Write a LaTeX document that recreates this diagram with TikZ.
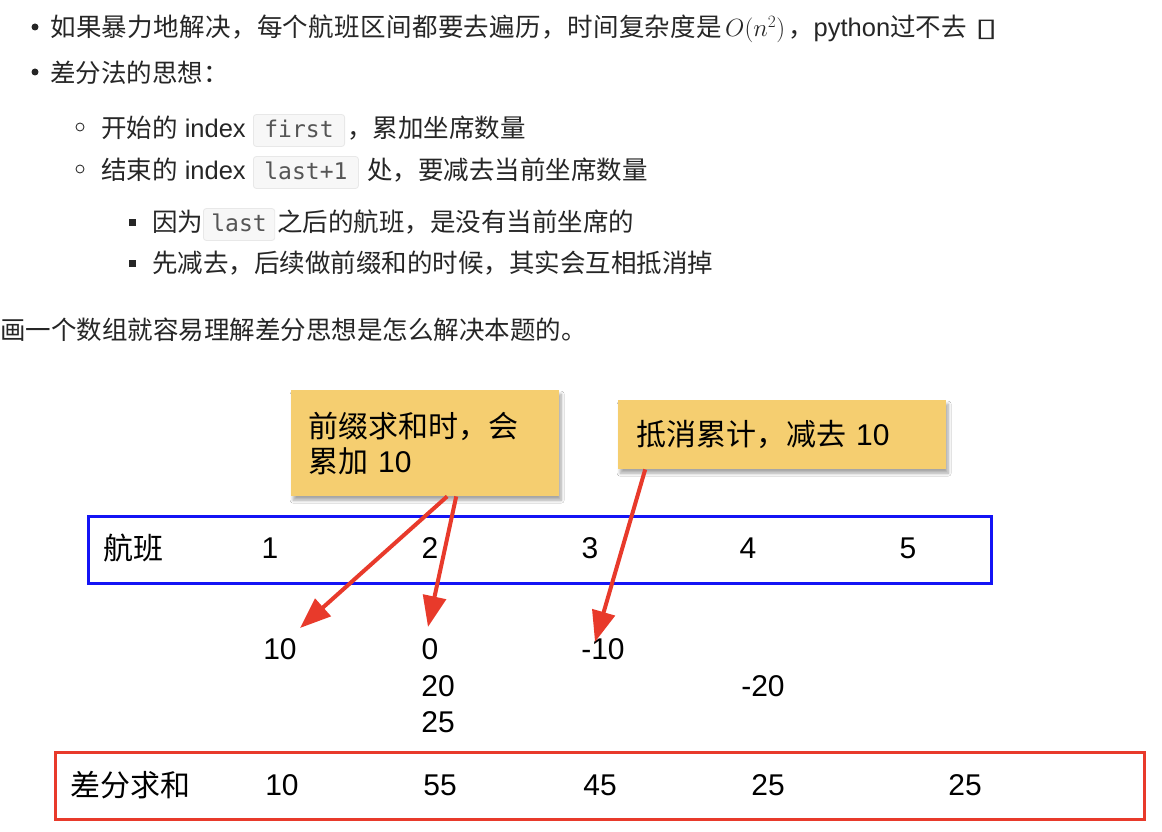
\documentclass[tikz,border=0pt]{standalone}
\usepackage{fontspec}
\setmainfont{Liberation Sans}
\newfontfamily\cjk{Noto Sans CJK SC}
\newfontfamily\codefont{DejaVu Sans Mono}
\newfontfamily\symfont{DejaVu Sans}
\usetikzlibrary{shadows.blur,arrows.meta}
\newcommand\zhs[1]{{\cjk #1}}
\definecolor{notey}{RGB}{245,206,112}
\definecolor{arrred}{RGB}{232,58,43}
\definecolor{boxblue}{RGB}{20,20,245}
\definecolor{codebg}{RGB}{247,247,247}
\definecolor{codebd}{RGB}{232,232,232}
\definecolor{codetx}{RGB}{85,85,85}
\begin{document}
\begin{tikzpicture}[x=1pt,y=-1pt,
  body/.style={anchor=base west, inner sep=0pt, text=black!85, font=\fontsize{25.5}{30}\selectfont},
  dot/.style={circle, fill=black!85, inner sep=0pt, minimum size=7pt},
  odot/.style={circle, draw=black!80, line width=0.9pt, inner sep=0pt, minimum size=8pt},
  sqdot/.style={rectangle, fill=black!85, inner sep=0pt, minimum size=7pt},
  code/.style={anchor=base west, rectangle, rounded corners=3pt, fill=codebg, draw=codebd, line width=0.8pt,
     text=codetx, font=\codefont\fontsize{23}{27}\selectfont, text height=20pt, text depth=6pt, inner ysep=3pt, inner xsep=11pt},
  note/.style={rectangle, fill=notey, anchor=north west, align=left, inner ysep=0pt,
     font=\fontsize{30}{35}\selectfont,
     blur shadow={shadow xshift=2pt, shadow yshift=-4pt, shadow blur radius=3pt, shadow opacity=35, shadow blur steps=8}},
  row/.style={rectangle, draw, line width=3pt, anchor=north west, inner sep=0pt},
  dg/.style={inner sep=0pt, font=\fontsize{30}{35}\selectfont, text=black},
  dl/.style={dg, anchor=west},
  arr/.style={draw=arrred, line width=4pt, -{Triangle[length=31pt,width=23pt]}, arrred}
]
\useasboundingbox[fill=white] (0,0) rectangle (1162,832);

% ---------- bullet list ----------
\node[dot] (b1) at (35,27) {};
\node[body] (l1a) at (50,36.5) {\zhs{\addfontfeature{LetterSpace=1.4}如果暴力地解决，每个航班区间都要去遍历，时间复杂度是}};
\node[body] (l1m) at (725,36.5) {$O(n^2)$};
\node[body] (l1d) at (788,36.5) {\zhs{，}python\zhs{过不去}};
\node[body] (l1e) at (975,36.5) {\symfont\scalebox{1.6}[1]{▯}};

\node[dot] (b2) at (35,72) {};
\node[body] (l2) at (50,82.5) {\zhs{差分法的思想：}};

\node[odot] (b3) at (80,127) {};
\node[body] (l3a) at (101,137.5) {\zhs{开始的} index};
\node[code] (c1) at (253,137.5) {first};
\node[body] (l3b) at (347,137.5) {\zhs{，累加坐席数量}};

\node[odot] (b4) at (80,169) {};
\node[body] (l4a) at (101,179.5) {\zhs{结束的} index};
\node[code] (c2) at (253,179.5) {last+1};
\node[body] (l4b) at (367,179.5) {\zhs{处，要减去当前坐席数量}};

\node[sqdot] (b5) at (132,222) {};
\node[body] (l5a) at (152,231.5) {\zhs{因为}};
\node[code, inner xsep=8pt] (c3) at (203,231.5) {last};
\node[body] (l5b) at (277,231.5) {\zhs{之后的航班，是没有当前坐席的}};

\node[sqdot] (b6) at (132,263) {};
\node[body] (l6) at (152,272.5) {\zhs{先减去，后续做前缀和的时候，其实会互相抵消掉}};

\node[body] (l7) at (0,339.5) {\zhs{画一个数组就容易理解差分思想是怎么解决本题的。}};

% ---------- diagram ----------
\node[row, draw=boxblue, minimum width=903pt, minimum height=67pt] (flights) at (87,515) {};
\node[dl] (fl) at (103,548) {\zhs{航班}};
\node[dg] (f1) at (270,548) {1};
\node[dg] (f2) at (430,548) {2};
\node[dg] (f3) at (590,548) {3};
\node[dg] (f4) at (748,548) {4};
\node[dg] (f5) at (908,548) {5};

\node[dg] (d10) at (280,649) {10};
\node[dg] (d0) at (430,649) {0};
\node[dg] (dm10) at (603,649) {-10};
\node[dg] (d20) at (438,686) {20};
\node[dg] (dm20) at (763,686) {-20};
\node[dg] (d25) at (438,722) {25};

\node[row, draw=arrred, minimum width=1089pt, minimum height=67pt] (sums) at (54,751) {};
\node[dl] (sl) at (70,785) {\zhs{差分求和}};
\node[dg] (s1) at (282,785) {10};
\node[dg] (s2) at (440,785) {55};
\node[dg] (s3) at (600,785) {45};
\node[dg] (s4) at (768,785) {25};
\node[dg] (s5) at (965,785) {25};

\node[note, text width=234pt, inner xsep=17pt, minimum height=106pt] (box1) at (291,390)
  {\zhs{前缀求和时，会}\\\zhs{累加} 10};
\node[note, text width=292pt, inner xsep=18pt, minimum height=69pt] (box2) at (618,400)
  {\zhs{抵消累计，减去} 10};

\coordinate (t1) at (300,628);
\coordinate (t2) at (428,627);
\coordinate (t3) at (595,642);
\draw[arr] ([xshift=22pt]box1.south) -- (t1);
\draw[arr] ([xshift=31pt]box1.south) -- (t2);
\draw[arr] ([xshift=-137pt]box2.south) -- (t3);
\end{tikzpicture}
\end{document}
